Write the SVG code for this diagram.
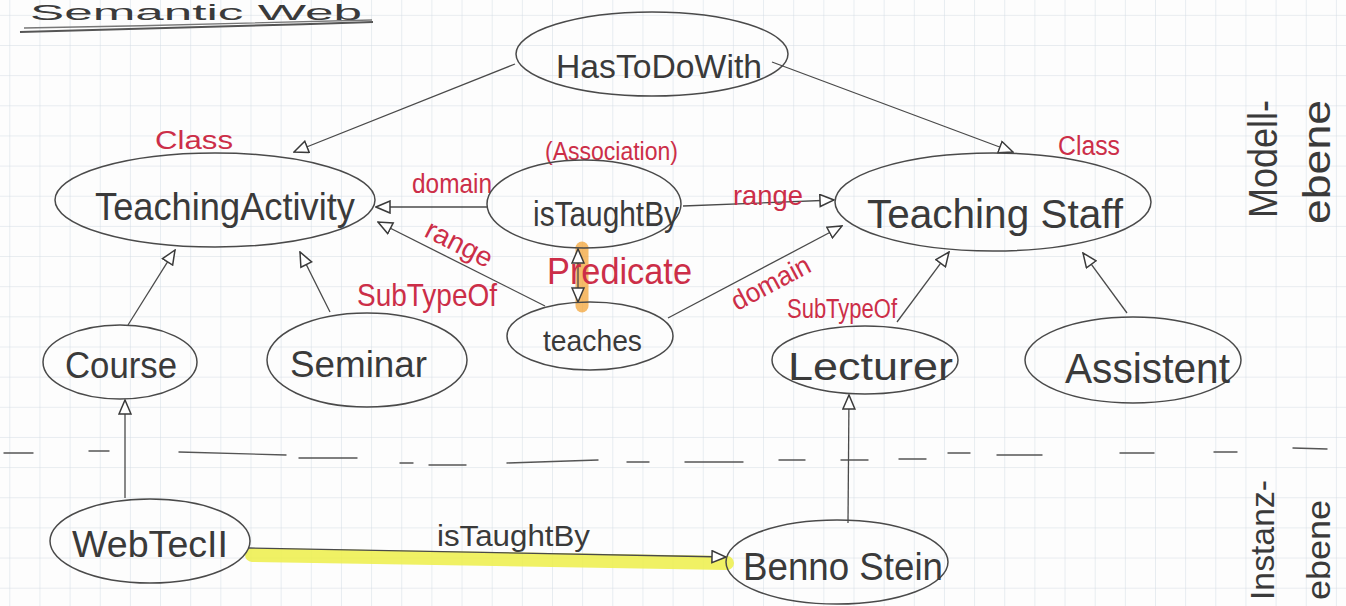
<svg xmlns="http://www.w3.org/2000/svg" width="1346" height="606" viewBox="0 0 1346 606">
  <style>
    .node ellipse { fill: none; stroke: #4a4a4a; stroke-width: 1.5; }
    .lbl { font-family: "Liberation Sans", Arial, sans-serif; fill: #3a3a3a; }
    .red { font-family: "Liberation Sans", Arial, sans-serif; fill: #cc2e48; }
    .edge { fill: none; stroke: #4a4a4a; stroke-width: 1.3; }
    .dash { fill: none; stroke: #555; stroke-width: 1.4; stroke-linecap: round; }
  </style>
  <defs>
    <pattern id="grid" x="9.3" y="14.85" width="30.15" height="30.15" patternUnits="userSpaceOnUse">
      <path d="M30.15 0 L0 0 0 30.15" fill="none" stroke="#d3dce3" stroke-width="1"/>
    </pattern>
    <marker id="tri" viewBox="0 0 16 14" refX="15" refY="7" markerWidth="16" markerHeight="14" markerUnits="userSpaceOnUse" orient="auto-start-reverse">
      <path d="M1,1 L15,7 L1,13 z" fill="#fff" stroke="#3a3a3a" stroke-width="1.5"/>
    </marker>
  </defs>

  <rect width="1346" height="606" fill="#fdfdfd"/>
  <rect width="1346" height="606" fill="url(#grid)"/>

  <!-- title -->
  <g id="title">
    <text class="lbl" x="30" y="20" font-size="22" textLength="332" lengthAdjust="spacingAndGlyphs">Semantic Web</text>
    <path d="M20,32 C120,30 250,26 373,22" fill="none" stroke="#555" stroke-width="2"/>
    <path d="M24,28 C140,26 260,23 372,20" fill="none" stroke="#777" stroke-width="1.4"/>
  </g>

  <!-- highlights -->
  <g id="highlights">
    <path d="M252,555 L727,563" stroke="#eef04a" stroke-width="14" stroke-linecap="round" opacity="0.85"/>
    <path d="M582,248 L582,306" stroke="#f4a02c" stroke-width="13" stroke-linecap="round" opacity="0.7"/>
  </g>

  <!-- level separator -->
  <g id="separator">
    <path class="dash" d="M4,453 H33 M89,451 H109 M179,452 L286,455 M299,458 H357 M400,463 H413 M429,465 H466 M507,463 L598,460 M627,462 H649 M685,462 H743 M779,460 H805 M841,460 H868 M899,459 H926 M948,453 H970 M997,455 H1042 M1120,453 H1154 M1214,452 H1237 M1293,448 L1327,449"/>
  </g>

  <!-- connectors -->
  <g id="connectors">
    <path class="edge" d="M515,64 L294,152" marker-end="url(#tri)"/>
    <path class="edge" d="M772,62 L1013,152" marker-end="url(#tri)"/>
    <path class="edge" d="M487,207 L376,207" marker-end="url(#tri)"/>
    <path class="edge" d="M683,206 L834,200" marker-end="url(#tri)"/>
    <path class="edge" d="M545,306 L378,222" marker-end="url(#tri)"/>
    <path class="edge" d="M668,318 L842,226" marker-end="url(#tri)"/>
    <path class="edge" d="M578,302 L578,249" marker-start="url(#tri)" marker-end="url(#tri)"/>
    <path class="edge" d="M128,325 L175,250" marker-end="url(#tri)"/>
    <path class="edge" d="M330,312 L300,252" marker-end="url(#tri)"/>
    <path class="edge" d="M897,322 L949,252" marker-end="url(#tri)"/>
    <path class="edge" d="M1127,313 L1083,253" marker-end="url(#tri)"/>
    <path class="edge" d="M125,498 L125,400" marker-end="url(#tri)"/>
    <path class="edge" d="M848,523 L849,395" marker-end="url(#tri)"/>
    <path class="edge" d="M249,548 L726,557" marker-end="url(#tri)"/>
  </g>

  <!-- edge labels -->
  <g id="edge-labels">
    <text class="red" x="412" y="193" font-size="28" textLength="80" lengthAdjust="spacingAndGlyphs">domain</text>
    <text class="red" x="733" y="205" font-size="28" textLength="70" lengthAdjust="spacingAndGlyphs">range</text>
    <text class="red" transform="translate(455,252) rotate(27)" text-anchor="middle" font-size="28" textLength="72" lengthAdjust="spacingAndGlyphs">range</text>
    <text class="red" transform="translate(775,291) rotate(-28)" text-anchor="middle" font-size="27" textLength="86" lengthAdjust="spacingAndGlyphs">domain</text>
    <text class="red" x="357" y="306" font-size="32" textLength="140" lengthAdjust="spacingAndGlyphs">SubTypeOf</text>
    <text class="red" x="547" y="284" font-size="36" textLength="145" lengthAdjust="spacingAndGlyphs">Predicate</text>
    <text class="red" x="787" y="318" font-size="27" textLength="110" lengthAdjust="spacingAndGlyphs">SubTypeOf</text>
    <text class="red" x="155" y="149" font-size="26" textLength="78" lengthAdjust="spacingAndGlyphs">Class</text>
    <text class="red" x="1058" y="155" font-size="27" textLength="62" lengthAdjust="spacingAndGlyphs">Class</text>
    <text class="red" x="545" y="160" font-size="26" textLength="133" lengthAdjust="spacingAndGlyphs">(Association)</text>
    <text class="lbl" x="437" y="546" font-size="30" textLength="153" lengthAdjust="spacingAndGlyphs">isTaughtBy</text>
  </g>

  <!-- nodes -->
  <g id="hasToDoWith" class="node">
    <ellipse cx="652" cy="54" rx="136" ry="42"/>
    <text class="lbl" x="556" y="78" font-size="34" textLength="206" lengthAdjust="spacingAndGlyphs">HasToDoWith</text>
  </g>
  <g id="teachingActivity" class="node">
    <ellipse cx="215" cy="200" rx="160" ry="47"/>
    <text class="lbl" x="95" y="220" font-size="38" textLength="260" lengthAdjust="spacingAndGlyphs">TeachingActivity</text>
  </g>
  <g id="isTaughtBy" class="node">
    <ellipse cx="584" cy="204" rx="97" ry="44"/>
    <text class="lbl" x="533" y="226" font-size="35" textLength="146" lengthAdjust="spacingAndGlyphs">isTaughtBy</text>
  </g>
  <g id="teaches" class="node">
    <ellipse cx="590" cy="336" rx="83" ry="34"/>
    <text class="lbl" x="543" y="351" font-size="30" textLength="99" lengthAdjust="spacingAndGlyphs">teaches</text>
  </g>
  <g id="teachingStaff" class="node">
    <ellipse cx="993" cy="202" rx="158" ry="49"/>
    <text class="lbl" x="867" y="228" font-size="40" textLength="256" lengthAdjust="spacingAndGlyphs">Teaching Staff</text>
  </g>
  <g id="course" class="node">
    <ellipse cx="120" cy="362" rx="77" ry="37"/>
    <text class="lbl" x="65" y="378" font-size="36" textLength="112" lengthAdjust="spacingAndGlyphs">Course</text>
  </g>
  <g id="seminar" class="node">
    <ellipse cx="367" cy="360" rx="100" ry="47"/>
    <text class="lbl" x="290" y="377" font-size="36" textLength="137" lengthAdjust="spacingAndGlyphs">Seminar</text>
  </g>
  <g id="lecturer" class="node">
    <ellipse cx="865" cy="360" rx="93" ry="34"/>
    <text class="lbl" x="788" y="380" font-size="38" textLength="165" lengthAdjust="spacingAndGlyphs">Lecturer</text>
  </g>
  <g id="assistent" class="node">
    <ellipse cx="1133" cy="360" rx="108" ry="43"/>
    <text class="lbl" x="1065" y="383" font-size="42" textLength="165" lengthAdjust="spacingAndGlyphs">Assistent</text>
  </g>
  <g id="webTecII" class="node">
    <ellipse cx="150" cy="541" rx="100" ry="42"/>
    <text class="lbl" x="72" y="557" font-size="36" textLength="156" lengthAdjust="spacingAndGlyphs">WebTecII</text>
  </g>
  <g id="bennoStein" class="node">
    <ellipse cx="837" cy="562" rx="111" ry="42"/>
    <text class="lbl" x="743" y="580" font-size="38" textLength="200" lengthAdjust="spacingAndGlyphs">Benno Stein</text>
  </g>

  <!-- level labels -->
  <g id="level-labels">
    <text class="lbl" transform="translate(1277,218) rotate(-90)" font-size="40" textLength="118" lengthAdjust="spacingAndGlyphs">Modell-</text>
    <text class="lbl" transform="translate(1330,224) rotate(-90)" font-size="38" textLength="124" lengthAdjust="spacingAndGlyphs">ebene</text>
    <text class="lbl" transform="translate(1274,600) rotate(-90)" font-size="34" textLength="120" lengthAdjust="spacingAndGlyphs">Instanz-</text>
    <text class="lbl" transform="translate(1330,600) rotate(-90)" font-size="34" textLength="100" lengthAdjust="spacingAndGlyphs">ebene</text>
  </g>
</svg>
